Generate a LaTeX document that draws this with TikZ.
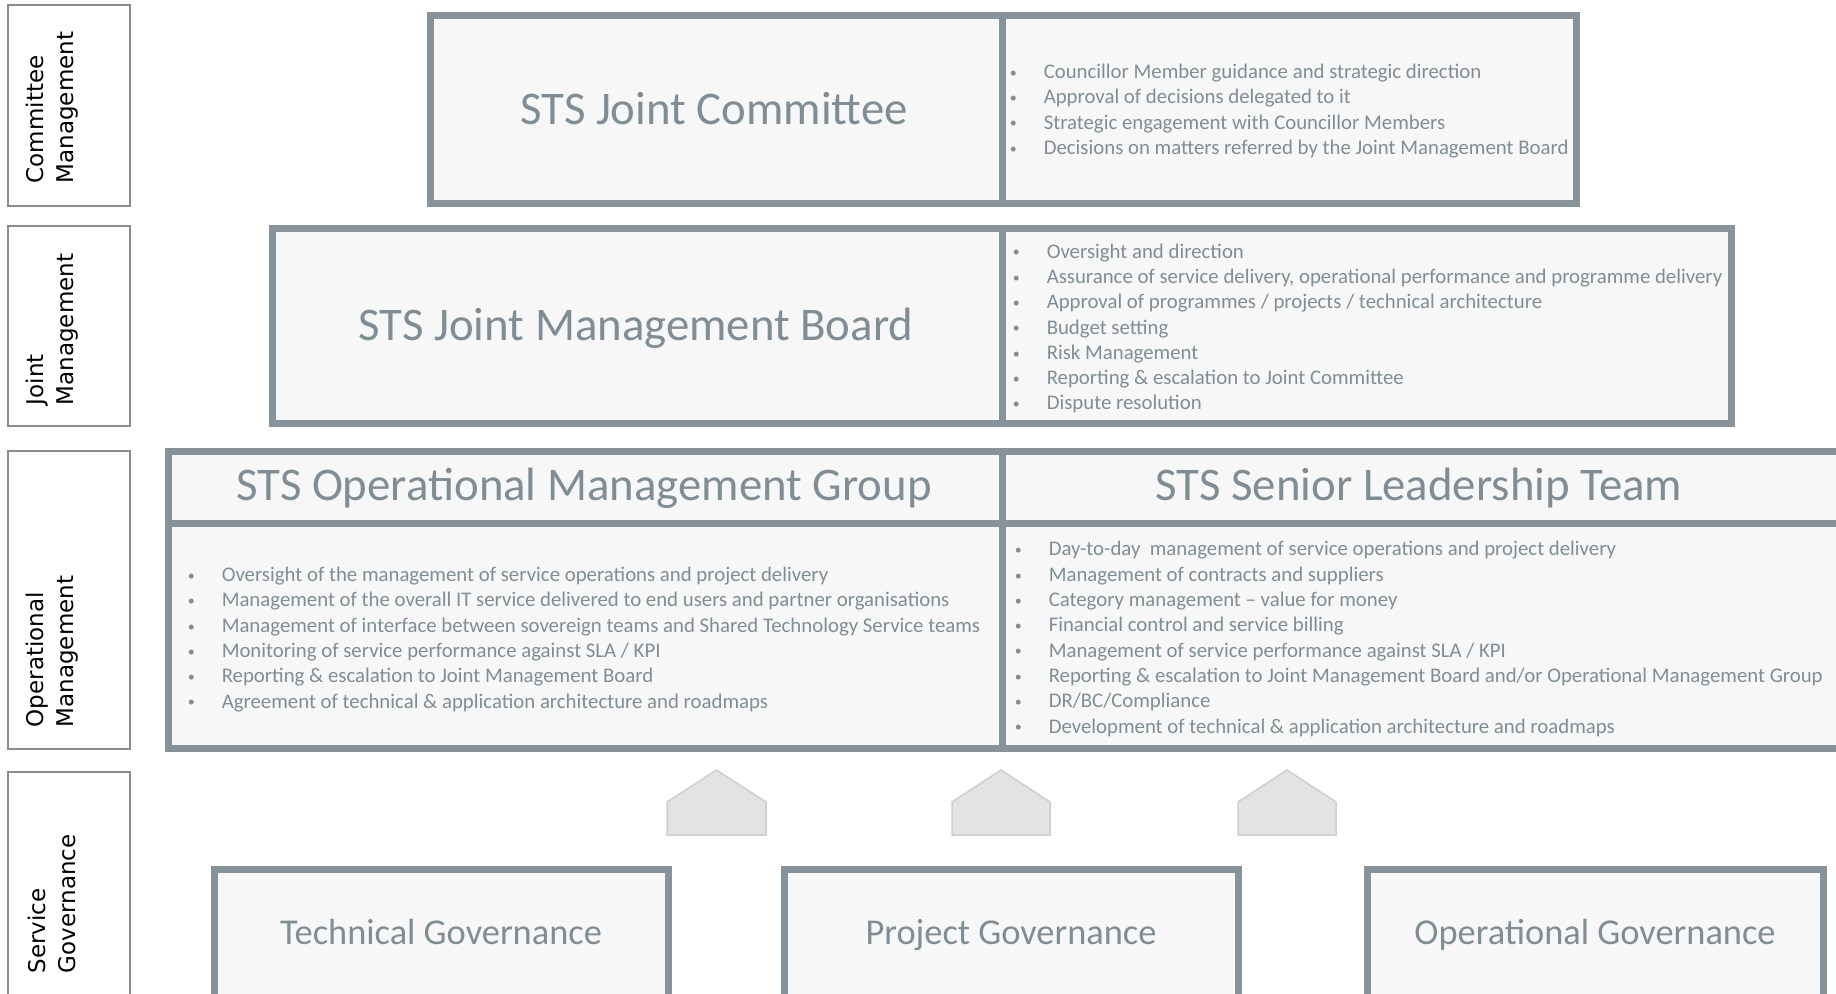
\documentclass[tikz,border=0pt]{standalone}
\usepackage{fontspec}
\setmainfont{Carlito}
\newfontfamily\sidefont{DejaVu Sans}

\definecolor{frameGrey}{RGB}{135,147,154}
\definecolor{paneFill}{RGB}{247,247,247}
\definecolor{inkGrey}{RGB}{128,141,148}
\definecolor{sideLine}{RGB}{140,140,140}
\definecolor{roofFill}{RGB}{227,227,227}
\definecolor{roofLine}{RGB}{206,206,206}

\newcommand{\blt}{\makebox[17pt][l]{\raisebox{0.6pt}{\scriptsize\textbullet}}}

\tikzset{every picture/.style={line width=0.75pt},
	pane/.style={draw=frameGrey, line width=3.5pt, fill=paneFill},
	sidebox/.style={draw=sideLine, line width=0.6pt, fill=white},
	roof/.style={draw=roofLine, line width=0.75pt, fill=roofFill},
	sidetext/.style={rotate=90, anchor=west, align=left, inner sep=0pt, font=\sidefont\fontsize{11.5}{15}\selectfont},
	bigtitle/.style={anchor=base, inner sep=0pt, text=inkGrey, font=\fontsize{23.4}{28}\selectfont},
	govtitle/.style={anchor=base, inner sep=0pt, text=inkGrey, font=\fontsize{18.2}{22}\selectfont},
	duties/.style={anchor=west, align=left, inner sep=0pt, text=inkGrey, font=\fontsize{10.4}{12.65}\selectfont}}

\begin{document}
\begin{tikzpicture}[x=0.5pt,y=0.5pt,yscale=-1,xscale=1]
	\useasboundingbox (0,0) rectangle (1836,994);
	\clip (0,0) rectangle (1836,994);

	%Shape: Rectangle -- level labels
	\draw [sidebox] (8,5) rectangle (130,206) ;
	\draw [sidebox] (8,226) rectangle (130,426) ;
	\draw [sidebox] (8,451) rectangle (130,749) ;
	\draw [sidebox] (8,772) rectangle (130,1010) ;

	%Shape: Rectangle -- joint committee
	\draw [pane] (430.5,15.5) rectangle (1002,203.5) ;
	\draw [pane] (1002,15.5) rectangle (1576.5,203.5) ;
	%Shape: Rectangle -- joint management board
	\draw [pane] (272.5,228.5) rectangle (1002,423.5) ;
	\draw [pane] (1002,228.5) rectangle (1731.5,423.5) ;
	%Shape: Rectangle -- operational group and leadership team
	\draw [pane] (168.5,451.5) rectangle (1002,523.5) ;
	\draw [pane] (1002,451.5) rectangle (1850,523.5) ;
	\draw [pane] (168.5,523.5) rectangle (1002,748.5) ;
	\draw [pane] (1002,523.5) rectangle (1850,748.5) ;

	%Shape: Pentagon
	\draw [roof] (667,835) -- (667,802) -- (716.5,770) -- (766,802) -- (766,835) -- cycle ;
	\draw [roof] (952,835) -- (952,802) -- (1001,770) -- (1050,802) -- (1050,835) -- cycle ;
	\draw [roof] (1238,835) -- (1238,802) -- (1287,770) -- (1336,802) -- (1336,835) -- cycle ;

	%Shape: Rectangle -- governance boxes
	\draw [pane] (214.5,869.5) rectangle (668.5,1010) ;
	\draw [pane] (784.5,869.5) rectangle (1238.5,1010) ;
	\draw [pane] (1367.5,869.5) rectangle (1823.5,1010) ;

	% Text Node
	\draw (52,184) node [sidetext] (cmLabel) {Committee\\Management};
	% Text Node
	\draw (52,406) node [sidetext] (jmLabel) {Joint\\Management};
	% Text Node
	\draw (52,728) node [sidetext] (omLabel) {Operational\\Management};
	% Text Node
	\draw (52,974) node [sidetext] (sgLabel) {Service\\Governance};

	% Text Node
	\draw (714,125) node [bigtitle] (jcTitle) {STS Joint Committee};
	% Text Node
	\draw (636,340.5) node [bigtitle] (jmbTitle) {STS Joint Management Board};
	% Text Node
	\draw (584,501) node [bigtitle] (omgTitle) {STS Operational Management Group};
	% Text Node
	\draw (1419,501) node [bigtitle] (sltTitle) {STS Senior Leadership Team};

	% Text Node
	\draw (1009,111) node [duties] (jcList) {\blt Councillor Member guidance and strategic direction\\
		\blt Approval of decisions delegated to it\\
		\blt Strategic engagement with Councillor Members\\
		\blt Decisions on matters referred by the Joint Management Board};
	% Text Node
	\draw (1012,328.5) node [duties] (jmbList) {\blt Oversight and direction\\
		\blt Assurance of service delivery, operational performance and programme delivery\\
		\blt Approval of programmes / projects / technical architecture\\
		\blt Budget setting\\
		\blt Risk Management\\
		\blt Reporting \& escalation to Joint Committee\\
		\blt Dispute resolution};
	% Text Node
	\draw (187,639.5) node [duties] (omgList) {\blt Oversight of the management of service operations and project delivery\\
		\blt Management of the overall IT service delivered to end users and partner organisations\\
		\blt Management of interface between sovereign teams and Shared Technology Service teams\\
		\blt Monitoring of service performance against SLA / KPI\\
		\blt Reporting \& escalation to Joint Management Board\\
		\blt Agreement of technical \& application architecture and roadmaps};
	% Text Node
	\draw (1014,639) node [duties] (sltList) {\blt Day-to-day\ \ management of service operations and project delivery\\
		\blt Management of contracts and suppliers\\
		\blt Category management -- value for money\\
		\blt Financial control and service billing\\
		\blt Management of service performance against SLA / KPI\\
		\blt Reporting \& escalation to Joint Management Board and/or Operational Management Group\\
		\blt DR/BC/Compliance\\
		\blt Development of technical \& application architecture and roadmaps};

	% Text Node
	\draw (441,944.5) node [govtitle] (techGov) {Technical Governance};
	% Text Node
	\draw (1011,944.5) node [govtitle] (projGov) {Project Governance};
	% Text Node
	\draw (1595,944.5) node [govtitle] (opsGov) {Operational Governance};

\end{tikzpicture}
\end{document}
